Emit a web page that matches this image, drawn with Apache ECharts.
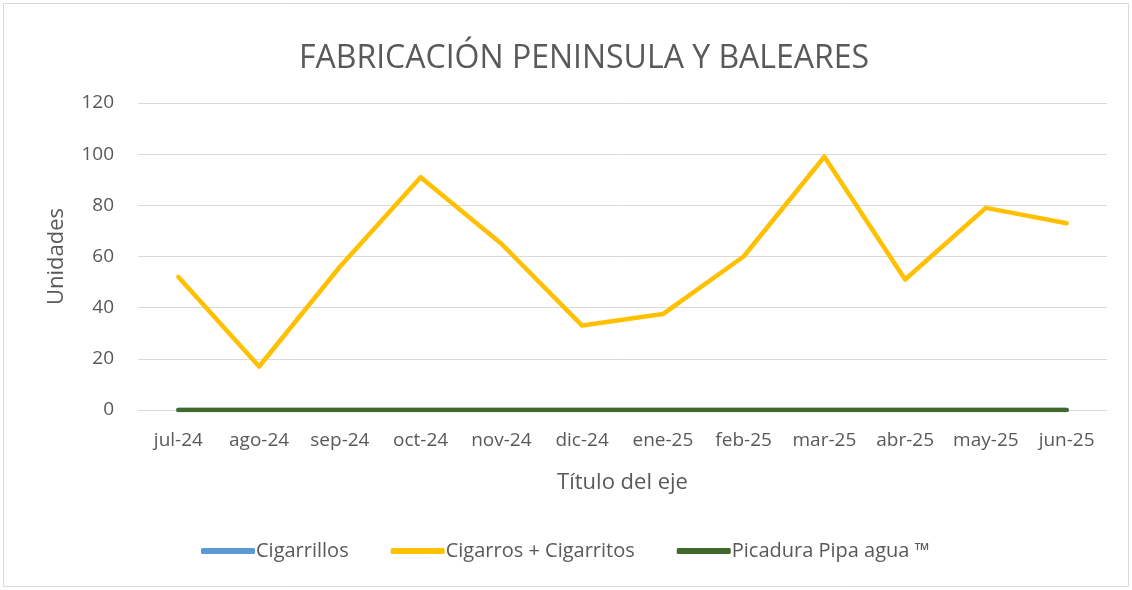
<!DOCTYPE html>
<html>
<head>
<meta charset="utf-8">
<script src="https://cdn.jsdelivr.net/npm/echarts@6/dist/echarts.min.js"></script>
<style>
  html, body { margin: 0; padding: 0; background: #fff; }
  #chart { width: 1132px; height: 590px; }
</style>
</head>
<body>
<div id="chart"></div>
<script>
var months = ['jul-24', 'ago-24', 'sep-24', 'oct-24', 'nov-24', 'dic-24', 'ene-25', 'feb-25', 'mar-25', 'abr-25', 'may-25', 'jun-25'];
var cigarrillos = [0, 0, 0, 0, 0, 0, 0, 0, 0, 0, 0, 0];
var cigarros = [52, 17, 56, 91, 65, 33, 37.5, 60, 99, 51, 79, 73];
var picadura = [0, 0, 0, 0, 0, 0, 0, 0, 0, 0, 0, 0];

var textColor = '#595959';
var fontFam = '"Open Sans", "Liberation Sans", sans-serif';

var chart = echarts.init(document.getElementById('chart'), null, { renderer: 'canvas' });

var option = {
  backgroundColor: '#ffffff',
  textStyle: { fontFamily: fontFam },
  title: {
    text: 'FABRICACIÓN PENINSULA Y BALEARES',
    left: 294,
    top: 38,
    textStyle: { fontFamily: fontFam, fontSize: 32, fontWeight: 'normal', color: textColor }
  },
  legend: {
    bottom: 24,
    left: 196,
    itemWidth: 54,
    itemHeight: 6,
    itemGap: 42,
    icon: 'roundRect',
    textStyle: { fontFamily: fontFam, fontSize: 20, color: textColor, padding: [0, 0, 0, -4] },
    data: ['Cigarrillos', 'Cigarros + Cigarritos', 'Picadura Pipa agua ™']
  },
  grid: { left: 138, right: 25, top: 103, bottom: 180 },
  xAxis: {
    type: 'category',
    data: months,
    boundaryGap: true,
    name: 'Título del eje',
    nameLocation: 'middle',
    nameGap: 62,
    nameTextStyle: { fontFamily: fontFam, fontSize: 22, color: textColor },
    axisLine: { show: true, lineStyle: { color: '#d9d9d9' } },
    axisTick: { show: false },
    axisLabel: { interval: 0, fontFamily: fontFam, fontSize: 19, color: textColor, margin: 21 }
  },
  yAxis: {
    type: 'value',
    min: 0,
    max: 120,
    interval: 20,
    name: 'Unidades',
    nameLocation: 'middle',
    nameGap: 70,
    nameTextStyle: { fontFamily: fontFam, fontSize: 22, color: textColor },
    axisLine: { show: false },
    axisTick: { show: false },
    axisLabel: { fontFamily: fontFam, fontSize: 19, color: textColor, margin: 24 },
    splitLine: { lineStyle: { color: '#d9d9d9', width: 1 } }
  },
  series: [
    {
      name: 'Cigarrillos',
      type: 'line',
      data: cigarrillos,
      symbol: 'none',
      color: '#5b9bd5',
      lineStyle: { width: 4.5, color: '#5b9bd5', cap: 'round', join: 'round' }
    },
    {
      name: 'Cigarros + Cigarritos',
      type: 'line',
      data: cigarros,
      symbol: 'none',
      color: '#ffc000',
      lineStyle: { width: 4.5, color: '#ffc000', cap: 'round', join: 'round' }
    },
    {
      name: 'Picadura Pipa agua ™',
      type: 'line',
      data: picadura,
      symbol: 'none',
      color: '#43682b',
      lineStyle: { width: 4.5, color: '#43682b', cap: 'round', join: 'round' }
    }
  ],
  graphic: [{
    type: 'rect',
    shape: { x: 3.5, y: 3.5, width: 1125, height: 583 },
    style: { fill: 'none', stroke: '#d9d9d9', lineWidth: 1 },
    silent: true
  }]
};

chart.setOption(option);
</script>
</body>
</html>
